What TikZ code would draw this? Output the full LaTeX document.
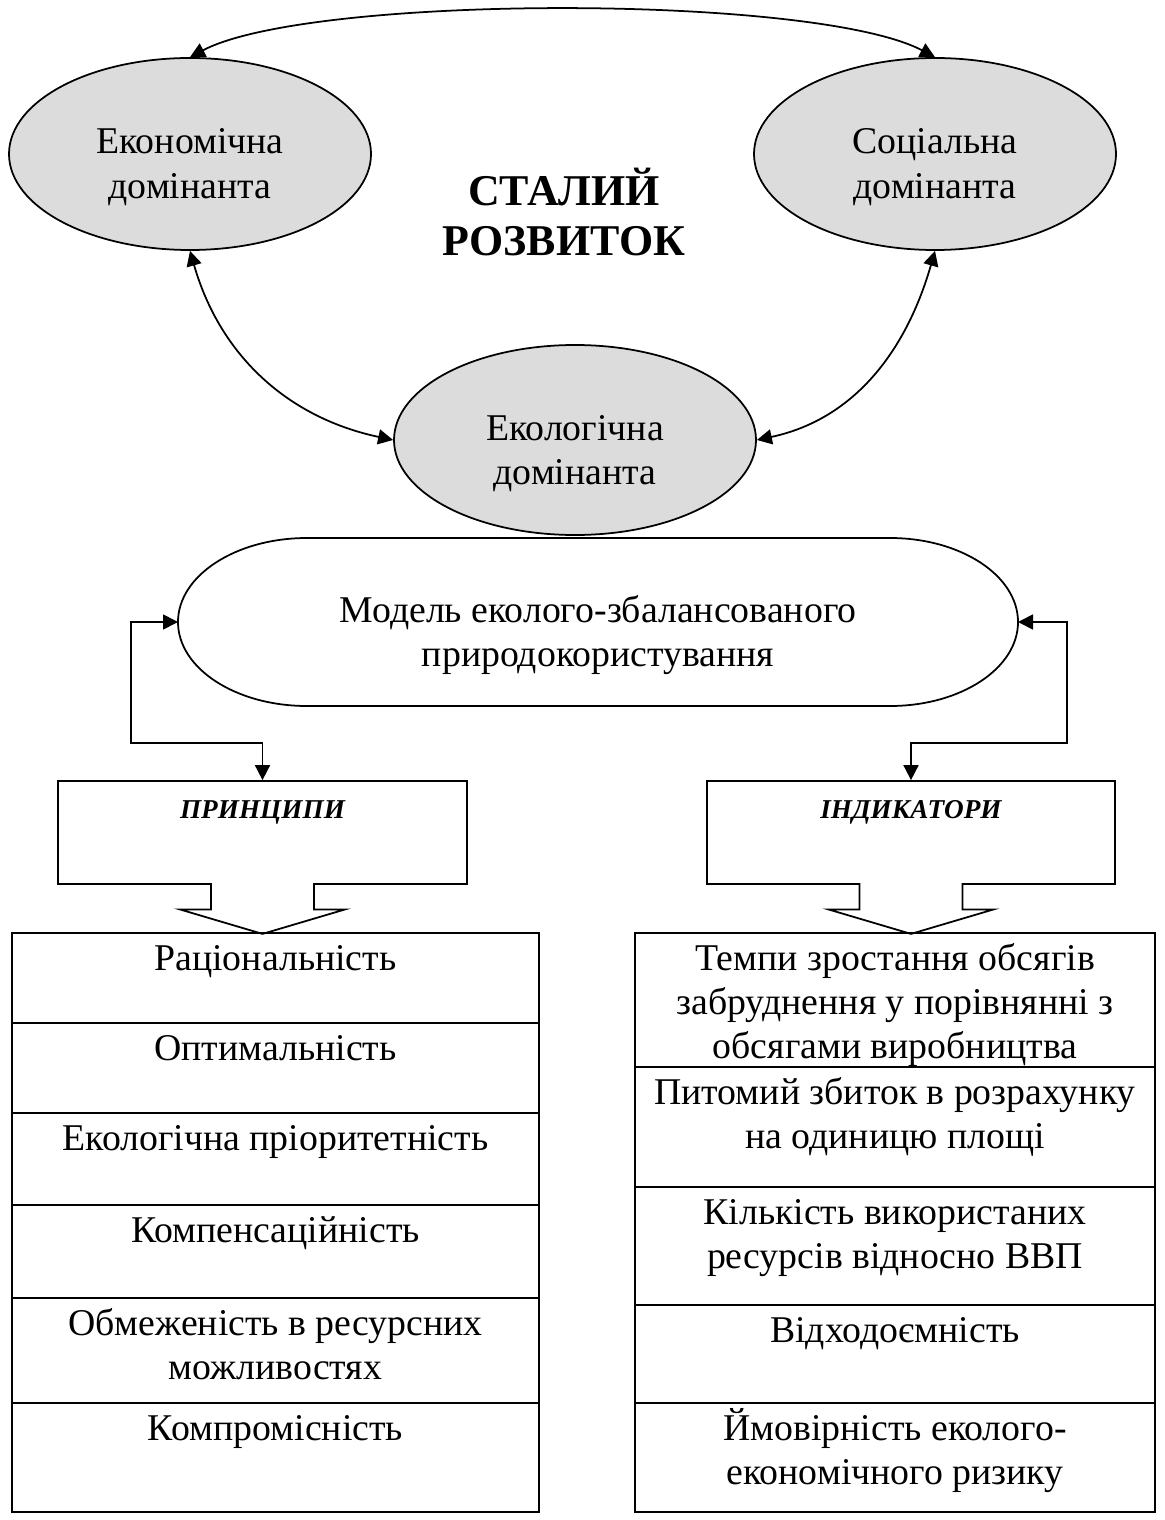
\documentclass[tikz,border=0pt]{standalone}
\usepackage{fontspec}
\setmainfont{Liberation Serif}
\usetikzlibrary{arrows.meta,positioning,calc,shapes.geometric,shapes.arrows}
\definecolor{domfill}{HTML}{DCDCDC}
\tikzset{
  base/.style={font=\fontsize{21.5}{25.3}\selectfont, line width=1pt},
  dom/.style={ellipse, draw, fill=domfill, minimum width=7.24cm, minimum height=3.84cm,
    inner sep=0pt},
  cellrow/.style={draw, rectangle, inner sep=0pt, outer sep=0pt},
  callbox/.style={arrow box, draw, inner sep=0pt, arrow box arrows={south:0.98cm},
    arrow box shaft width=2.06cm, arrow box head extend=0.62cm,
    arrow box head indent=0cm, arrow box tip angle=147},
  biarr/.style={{Triangle[length=3mm,width=3mm]}-{Triangle[length=3mm,width=3mm]}},
}
\newcommand{\rowtxt}[4][0.74cm]{\parbox[c][#2][t]{#3}{\centering\rule{0pt}{#1}#4}}
\newcommand{\boxlabel}[1]{{\fontsize{15.5}{18}\selectfont\bfseries\itshape #1}}

\begin{document}
\begin{tikzpicture}[base]
  \useasboundingbox (0,0) rectangle (23.28,-30.4);
  % three dominants
  \node[dom] (econ) at (3.80,-3.08) {\rowtxt[1.25cm]{2.5cm}{5cm}{Економічна\\домінанта}};
  \node[dom] (social) at (18.70,-3.08) {\rowtxt[1.25cm]{2.5cm}{5cm}{Соціальна\\домінанта}};
  \node[dom, minimum height=3.8cm] (ecol) at (11.50,-8.80)
    {\rowtxt[1.25cm]{2.5cm}{5cm}{Екологічна\\домінанта}};
  \node[font=\fontsize{25}{28}\selectfont\bfseries, align=center] (title) at (11.28,-4.24)
    {СТАЛИЙ\\РОЗВИТОК};
  \draw[biarr] (econ.north) .. controls (6.2,0.12) and (16.3,0.12) .. (social.north);
  \draw[biarr] (econ.south) to[out=-74, in=168] (ecol.west);
  \draw[biarr] (social.south) to[out=-106, in=12] (ecol.east);

  % model
  \node[minimum width=16.8cm, minimum height=3.36cm, inner sep=0pt, outer sep=0pt] (model)
    at (11.96,-12.44)
    {\rowtxt[1.25cm]{2.5cm}{12cm}{Модель еколого-збалансованого\\природокористування}};
  \draw ($(model.north west)+(2.58,0)$) -- ($(model.north east)+(-2.56,0)$)
    arc[start angle=90, end angle=-90, x radius=2.56, y radius=1.68]
    -- ($(model.south west)+(2.58,0)$)
    arc[start angle=270, end angle=90, x radius=2.58, y radius=1.68] -- cycle;

  % principles and indicators
  \node[callbox] (princ) at (5.25,-16.65)
    {\rowtxt{2.06cm}{8.18cm}{\boxlabel{ПРИНЦИПИ}}};
  \node[callbox] (indic) at (18.22,-16.65)
    {\rowtxt{2.06cm}{8.16cm}{\boxlabel{ІНДИКАТОРИ}}};
  \coordinate (lbend) at (2.62,-12.44);
  \coordinate (lknee) at (5.25,-14.86);
  \coordinate (rbend) at (21.34,-12.44);
  \coordinate (rknee) at (18.22,-14.86);
  \draw[biarr] (model.west) -- (lbend) |- (lknee) -- (princ.north);
  \draw[biarr] (model.east) -- (rbend) |- (rknee) -- (indic.north);

  % left column
  \node[cellrow, anchor=north] (p1) at (5.51,-18.66) {\rowtxt{1.80cm}{10.54cm}{Раціональність}};
  \node[cellrow, below=0pt of p1] (p2) {\rowtxt{1.80cm}{10.54cm}{Оптимальність}};
  \node[cellrow, below=0pt of p2] (p3) {\rowtxt{1.84cm}{10.54cm}{Екологічна пріоритетність}};
  \node[cellrow, below=0pt of p3] (p4) {\rowtxt{1.86cm}{10.54cm}{Компенсаційність}};
  \node[cellrow, below=0pt of p4] (p5) {\rowtxt{2.10cm}{10.54cm}{Обмеженість в ресурсних\\можливостях}};
  \node[cellrow, below=0pt of p5] (p6) {\rowtxt{2.18cm}{10.54cm}{Компромісність}};

  % right column
  \node[cellrow, anchor=north] (i1) at (17.90,-18.66)
    {\rowtxt{2.68cm}{10.4cm}{Темпи зростання обсягів\\забруднення у порівнянні з\\обсягами виробництва}};
  \node[cellrow, below=0pt of i1] (i2) {\rowtxt{2.40cm}{10.4cm}{Питомий збиток в розрахунку\\на одиницю площі}};
  \node[cellrow, below=0pt of i2] (i3) {\rowtxt{2.36cm}{10.4cm}{Кількість використаних\\ресурсів відносно ВВП}};
  \node[cellrow, below=0pt of i3] (i4) {\rowtxt{1.96cm}{10.4cm}{Відходоємність}};
  \node[cellrow, below=0pt of i4] (i5) {\rowtxt{2.18cm}{10.4cm}{Ймовірність еколого-\\економічного ризику}};
\end{tikzpicture}
\end{document}
